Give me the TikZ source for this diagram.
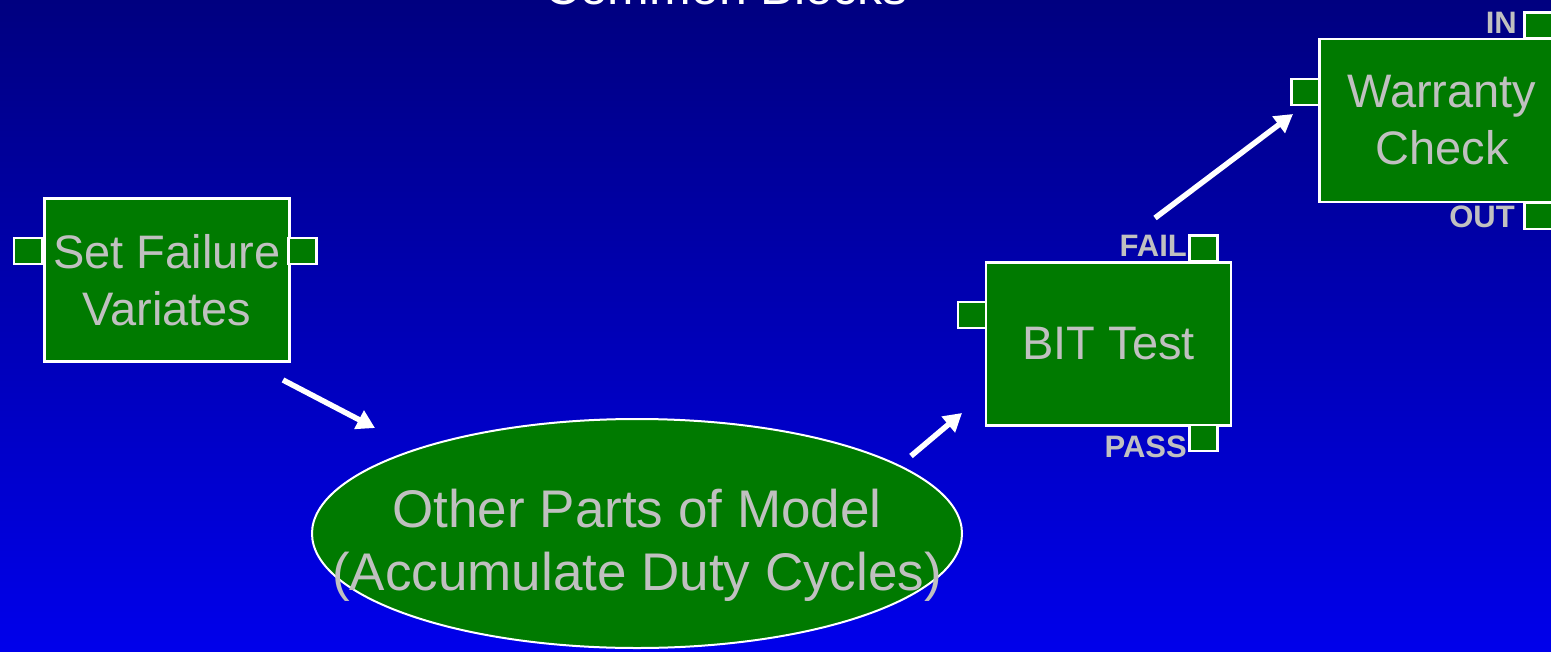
\documentclass[tikz,border=0pt]{standalone}
\usepackage{fontspec}
\setmainfont{Liberation Sans}
\usetikzlibrary{arrows.meta,shapes.geometric}
\definecolor{bgtop}{RGB}{0,0,128}
\definecolor{bgbot}{RGB}{0,0,235}
\definecolor{blockgreen}{RGB}{0,122,0}
\definecolor{txtgray}{RGB}{192,192,192}
\begin{document}
\begin{tikzpicture}[x=1pt,y=-1pt,
  block/.style={draw=white, line width=2.5pt, fill=blockgreen, minimum width=245pt, minimum height=163pt, inner sep=0pt, text=txtgray, align=center, font=\fontsize{47}{57}\selectfont},
  port/.style={draw=white, line width=2.5pt, fill=blockgreen, minimum width=28pt, minimum height=26pt, inner sep=0pt},
  portlabel/.style={text=txtgray, font=\fontsize{31}{31}\selectfont\bfseries, inner sep=0pt},
  flow/.style={draw=white, line width=5.5pt, -{Triangle[length=18pt,width=20pt]}},
]
\shade[top color=bgtop, bottom color=bgbot] (0,0) rectangle (1551,651);
\useasboundingbox (0,0) rectangle (1551,651);

\node[white, anchor=base, font=\fontsize{50}{60}\selectfont, inner sep=0pt] (title) at (726,4) {Common Blocks};

% blocks
\node[block] (setfail) at (167,280) {Set Failure\\Variates};
\node[block] (bit) at (1108.5,344) {BIT Test};
\node[block] (warranty) at (1442,120.5) {Warranty\\Check};

% ellipse
\node[ellipse, draw=white, line width=2pt, fill=blockgreen, minimum width=650pt, minimum height=229pt, inner sep=0pt] (model) at (637,533.5) {};
\node[text=txtgray, align=center, font=\fontsize{53}{63}\selectfont, inner sep=0pt] (modeltext) at (637,545) {Other Parts of Model\\(Accumulate Duty Cycles)};

% ports
\node[port] (setL) at (28,251) {};
\node[port] (setR) at (302.5,251) {};
\node[port] (bitL) at (972,315) {};
\node[port] (bitFail) at (1203.5,248.5) {};
\node[port] (bitPass) at (1203.5,438) {};
\node[port] (warL) at (1305.5,92) {};
\node[port] (warIn) at (1538.5,25.5) {};
\node[port] (warOut) at (1538.5,216) {};

% port labels
\node[portlabel, anchor=base east] (failL) at (1187,256) {FAIL};
\node[portlabel, anchor=base east] (passL) at (1187,457) {PASS};
\node[portlabel, anchor=base east] (inL) at (1517,33) {IN};
\node[portlabel, anchor=base east] (outL) at (1515,227) {OUT};

% arrows
\coordinate (a1s) at (283,380);
\coordinate (a1e) at (375,428);
\coordinate (a2s) at (911,456);
\coordinate (a2e) at (962,413);
\coordinate (a3s) at (1155,218);
\coordinate (a3e) at (1293,114);
\draw[flow] (a1s) -- (a1e);
\draw[flow] (a2s) -- (a2e);
\draw[flow] (a3s) -- (a3e);
\end{tikzpicture}
\end{document}
